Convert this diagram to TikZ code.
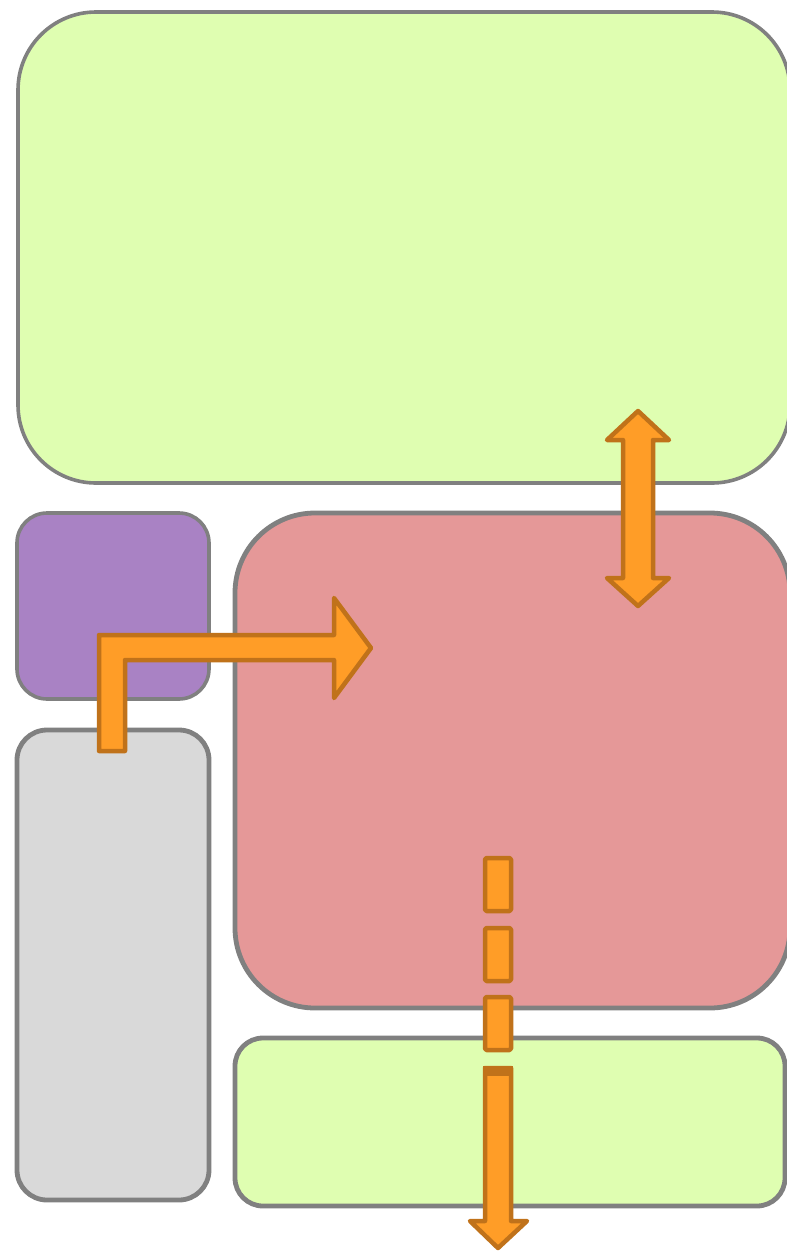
\documentclass[tikz,border=0pt]{standalone}
\usetikzlibrary{calc}
\definecolor{gfill}{RGB}{223,254,177}
\definecolor{rfill}{RGB}{229,152,152}
\definecolor{pfill}{RGB}{169,130,196}
\definecolor{kfill}{RGB}{217,217,217}
\definecolor{edge}{RGB}{128,128,128}
\definecolor{ofill}{RGB}{255,157,39}
\definecolor{oedge}{RGB}{192,114,26}
\tikzset{
  box/.style={draw=edge, inner sep=0pt, outer sep=0pt, line width=4.8pt},
  blockarrow/.style={fill=ofill, draw=oedge, line width=4.5pt, line join=round}
}
\begin{document}
\begin{tikzpicture}[x=1pt,y=-1pt]
\clip (0,0) rectangle (787,1253);
\fill[white] (0,0) rectangle (787,1253);
% boxes
\node[box, fill=gfill, rounded corners=78pt, line width=3.6pt, minimum width=772pt, minimum height=471pt] (top) at (404,247.5) {};
\node[box, fill=pfill, rounded corners=30pt, line width=3.6pt, minimum width=192pt, minimum height=186pt] (purple) at (113,606) {};
\node[box, fill=kfill, rounded corners=30pt, minimum width=192pt, minimum height=470pt] (grey) at (113,965) {};
\node[box, fill=rfill, rounded corners=80pt, minimum width=555pt, minimum height=495pt] (red) at (512.5,760.5) {};
\node[box, fill=gfill, rounded corners=28pt, minimum width=550pt, minimum height=168pt] (bottom) at (510,1122) {};
% bent arrow
\draw[blockarrow] (99,751) -- (99,635) -- (334,635) -- (334,598) -- (371,648) -- (334,698) -- (334,660) -- (125,660) -- (125,751) -- cycle;
% double arrow
\draw[blockarrow] (638,411) -- (669,440) -- (653,440) -- (653,578) -- (669,578) -- (638,606) -- (607,578) -- (623,578) -- (623,440) -- (607,440) -- cycle;
% dashed down arrow
\draw[blockarrow, rounded corners=1.5pt] (485,858) rectangle (511,911);
\draw[blockarrow, rounded corners=1.5pt] (485,928) rectangle (511,981);
\draw[blockarrow, rounded corners=1.5pt] (485,997) rectangle (511,1050);
\draw[blockarrow] (485,1068) -- (511,1068) -- (511,1221) -- (527,1221) -- (498,1248) -- (470,1221) -- (485,1221) -- cycle;
\fill[oedge] (483,1066) rectangle (513,1076);
\end{tikzpicture}
\end{document}
